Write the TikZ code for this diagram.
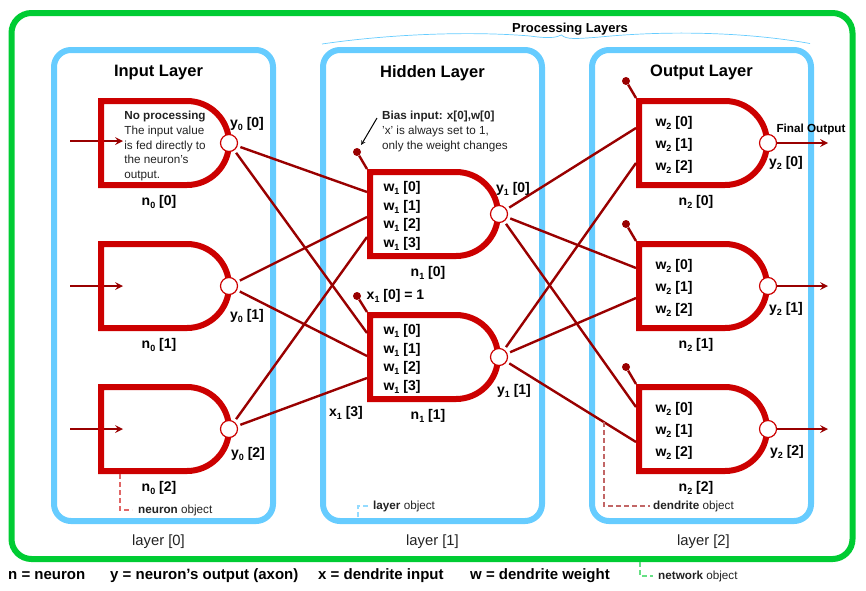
\documentclass[tikz,border=0pt]{standalone}
\usepackage{fontspec}
\setmainfont{Liberation Sans}
\usetikzlibrary{shapes.misc, arrows, calc, backgrounds}
\definecolor{netgreen}{HTML}{00CC33}
\definecolor{layerblue}{HTML}{66CCFF}
\definecolor{gatered}{HTML}{CC0000}
\definecolor{wirered}{HTML}{990000}
\definecolor{inkgray}{HTML}{222222}
\newcommand{\idx}[3]{#1\raisebox{-3pt}{\fontsize{9}{9}\selectfont #2} [#3]}

\begin{document}
\begin{tikzpicture}[x=1pt, y=-1pt, node distance=143pt]
    \tikzstyle{network} = [rectangle, rounded corners=20pt, minimum width=841pt, minimum height=546pt, draw=netgreen, line width=6pt]
    \tikzstyle{layerbox} = [rectangle, rounded corners=17pt, minimum width=219pt, minimum height=471pt, draw=layerblue, line width=6pt]
    \tikzstyle{gate} = [rounded rectangle, rounded rectangle left arc=none, minimum width=128pt, minimum height=84pt, inner sep=0pt, draw=gatered, line width=6pt]
    \tikzstyle{axon} = [circle, minimum size=17pt, inner sep=0pt, draw=gatered, line width=1.2pt, fill=white]
    \tikzstyle{bias} = [circle, minimum size=8pt, inner sep=0pt, fill=wirered]
    \tikzstyle{dendrite} = [draw=wirered, line width=2.4pt, shorten <=3pt]
    \tikzstyle{arrow} = [draw=wirered, line width=2.4pt, ->, >=stealth]
    \tikzstyle{title} = [inner sep=0pt, yshift=-2pt, font=\fontsize{16.5}{18}\selectfont\bfseries]
    \tikzstyle{tag} = [inner sep=0pt, yshift=-2pt, font=\fontsize{14}{16}\selectfont\bfseries]
    \tikzstyle{neuronlabel} = [tag, node distance=57pt, xshift=-6pt]
    \tikzstyle{weights} = [inner sep=0pt, yshift=-2pt, align=left, font=\fontsize{14}{18.5}\selectfont\bfseries]
    \tikzstyle{small} = [inner sep=0pt, text=inkgray, font=\fontsize{11.7}{14.7}\selectfont]
    \tikzstyle{layername} = [inner sep=0pt, yshift=-2pt, text=inkgray, font=\fontsize{14.8}{16}\selectfont, node distance=254pt]
    \tikzstyle{legend} = [inner sep=0pt, anchor=west, font=\fontsize{15}{17}\selectfont\bfseries]
    \tikzstyle{leader} = [line width=1.2pt, dash pattern=on 5pt off 3pt, shorten >=6pt]

    \useasboundingbox (0,0) rectangle (866,590);

    % frames
    \node (net) [network] at (432,286) {};
    \node (layer0) [layerbox] at (163.5,285.5) {};
    \node (layer1) [layerbox, right of=layer0, node distance=269pt] {};
    \node (layer2) [layerbox, right of=layer1, node distance=269pt] {};

    \node (title0) [title, above of=layer0, node distance=214.5pt, xshift=-5pt] {Input Layer};
    \node (title1) [title, above of=layer1, node distance=214.5pt] {Hidden Layer};
    \node (title2) [title, above of=layer2, node distance=215.5pt] {Output Layer};
    \node (layername0) [layername, below of=layer0, xshift=-5pt] {layer [0]};
    \node (layername1) [layername, below of=layer1] {layer [1]};
    \node (layername2) [layername, below of=layer2, xshift=2pt] {layer [2]};

    % neurons
    \node (n00) [gate] at (165,143) {};
    \node (n01) [gate, below of=n00] {};
    \node (n02) [gate, below of=n01] {};
    \node (n10) [gate, right of=n00, node distance=269pt, yshift=-71pt] {};
    \node (n11) [gate, below of=n10] {};
    \node (n20) [gate, right of=n10, node distance=269pt, yshift=71pt] {};
    \node (n21) [gate, below of=n20] {};
    \node (n22) [gate, below of=n21] {};
    \node (note) [small, align=left, below of=n00, node distance=3pt] {\textbf{No processing}\\The input value\\is fed directly to\\the neuron's\\output.};

    \node (y00) [axon, right of=n00, node distance=64pt] {};
    \node (y01) [axon, right of=n01, node distance=64pt] {};
    \node (y02) [axon, right of=n02, node distance=64pt] {};
    \node (y10) [axon, right of=n10, node distance=65pt] {};
    \node (y11) [axon, right of=n11, node distance=65pt] {};
    \node (y20) [axon, right of=n20, node distance=65pt] {};
    \node (y21) [axon, right of=n21, node distance=65pt] {};
    \node (y22) [axon, right of=n22, node distance=65pt] {};

    % weights
    \node (w10) [weights, left of=n10, node distance=32pt] {\idx{w}{1}{0}\\\idx{w}{1}{1}\\\idx{w}{1}{2}\\\idx{w}{1}{3}};
    \node (w11) [weights, left of=n11, node distance=32pt] {\idx{w}{1}{0}\\\idx{w}{1}{1}\\\idx{w}{1}{2}\\\idx{w}{1}{3}};
    \tikzstyle{weights} = [inner sep=0pt, yshift=-2pt, align=left, font=\fontsize{14}{22}\selectfont\bfseries]
    \node (w20) [weights, left of=n20, node distance=29pt] {\idx{w}{2}{0}\\\idx{w}{2}{1}\\\idx{w}{2}{2}};
    \node (w21) [weights, left of=n21, node distance=29pt] {\idx{w}{2}{0}\\\idx{w}{2}{1}\\\idx{w}{2}{2}};
    \node (w22) [weights, left of=n22, node distance=29pt] {\idx{w}{2}{0}\\\idx{w}{2}{1}\\\idx{w}{2}{2}};

    % neuron and output labels
    \node (ln00) [neuronlabel, below of=n00] {\idx{n}{0}{0}};
    \node (ln01) [neuronlabel, below of=n01] {\idx{n}{0}{1}};
    \node (ln02) [neuronlabel, below of=n02] {\idx{n}{0}{2}};
    \node (ln10) [neuronlabel, below of=n10] {\idx{n}{1}{0}};
    \node (ln11) [neuronlabel, below of=n11] {\idx{n}{1}{1}};
    \node (ln20) [neuronlabel, below of=n20, xshift=-1pt] {\idx{n}{2}{0}};
    \node (ln21) [neuronlabel, below of=n21, xshift=-1pt] {\idx{n}{2}{1}};
    \node (ln22) [neuronlabel, below of=n22, xshift=-1pt] {\idx{n}{2}{2}};

    \node (ly00) [tag, above of=y00, node distance=21pt, xshift=18pt] {\idx{y}{0}{0}};
    \node (ly01) [tag, below of=y01, node distance=28pt, xshift=18pt] {\idx{y}{0}{1}};
    \node (ly02) [tag, below of=y02, node distance=23pt, xshift=19pt] {\idx{y}{0}{2}};
    \node (ly10) [tag, above of=y10, node distance=27pt, xshift=14pt] {\idx{y}{1}{0}};
    \node (ly11) [tag, below of=y11, node distance=32pt, xshift=15pt] {\idx{y}{1}{1}};
    \node (ly20) [tag, below of=y20, node distance=18pt, xshift=18pt] {\idx{y}{2}{0}};
    \node (ly21) [tag, below of=y21, node distance=21pt, xshift=18pt] {\idx{y}{2}{1}};
    \node (ly22) [tag, below of=y22, node distance=21pt, xshift=19pt] {\idx{y}{2}{2}};

    % bias inputs
    \node (b10) [bias] at ($(n10.north west)+(-10,-17)$) {};
    \node (b11) [bias] at ($(n11.north west)+(-10,-16)$) {};
    \node (b20) [bias] at ($(n20.north west)+(-10,-17)$) {};
    \node (b21) [bias] at ($(n21.north west)+(-10,-17)$) {};
    \node (b22) [bias] at ($(n22.north west)+(-10,-17)$) {};
    \draw [draw=wirered, line width=2.4pt] (b10) -- (n10.north west);
    \draw [draw=wirered, line width=2.4pt] (b11) -- (n11.north west);
    \draw [draw=wirered, line width=2.4pt] (b20) -- (n20.north west);
    \draw [draw=wirered, line width=2.4pt] (b21) -- (n21.north west);
    \draw [draw=wirered, line width=2.4pt] (b22) -- (n22.north west);

    \node (biastext) [small, align=left, anchor=north west] at (382,111) {\textbf{Bias input: x[0],w[0]}\\'x' is always set to 1,\\only the weight changes};
    \draw [line width=1pt, ->, >=stealth, shorten >=4pt] ($(biastext.north west)+(-5,7)$) -- (b10);
    \node (x10) [tag, right of=b11, node distance=38.5pt, yshift=2pt] {\idx{x}{1}{0} = 1};
    \node (x13) [tag, left of=n11, node distance=88pt, yshift=-54pt] {\idx{x}{1}{3}};

    % wiring input to hidden
    \draw [dendrite] (y00) -- ($(n10.west)+(0,-22)$);
    \draw [dendrite] (y00) -- ($(n11.west)+(0,-24)$);
    \draw [dendrite] (y01) -- ($(n10.west)+(0,3)$);
    \draw [dendrite] (y01) -- ($(n11.west)+(0,-1)$);
    \draw [dendrite] (y02) -- ($(n10.west)+(0,23)$);
    \draw [dendrite] (y02) -- ($(n11.west)+(0,21)$);

    % wiring hidden to output
    \draw [dendrite] (y10) -- ($(n20.west)+(0,-15)$);
    \draw [dendrite] (y10) -- ($(n21.west)+(0,-18)$);
    \draw [dendrite] (y10) -- ($(n22.west)+(0,-22)$);
    \draw [dendrite] (y11) -- ($(n20.west)+(0,20)$);
    \draw [dendrite] (y11) -- ($(n21.west)+(0,12)$);
    \draw [dendrite] (y11) -- coordinate[pos=.753] (tap) ($(n22.west)+(0,13)$);

    % inputs and outputs
    \coordinate [left of=n00, node distance=95pt, yshift=2pt] (in00);
    \coordinate [left of=n01, node distance=95pt] (in01);
    \coordinate [left of=n02, node distance=95pt] (in02);
    \coordinate [left of=n00, node distance=42pt, yshift=2pt] (end00);
    \coordinate [left of=n01, node distance=42pt] (end01);
    \coordinate [left of=n02, node distance=42pt] (end02);
    \begin{scope}[on background layer]
        \draw [arrow] (in00) -- (end00);
        \draw [arrow] (in01) -- (end01);
        \draw [arrow] (in02) -- (end02);
    \end{scope}
    \coordinate [right of=y20, node distance=60pt] (out20);
    \coordinate [right of=y21, node distance=60pt] (out21);
    \coordinate [right of=y22, node distance=60pt] (out22);
    \draw [arrow] (y20) -- (out20);
    \draw [arrow] (y21) -- (out21);
    \draw [arrow] (y22) -- (out22);
    \node (final) [small, text=black, above of=out20, node distance=14pt, xshift=-17pt, font=\fontsize{11.7}{14.7}\selectfont\bfseries] {Final Output};

    % object hints
    \node (neuronhint) [small, anchor=west] at (138,510) {\textbf{neuron} object};
    \draw [leader, draw=gatered!60] ($(n02.south west)+(22,0)$) |- (neuronhint.west);
    \node (layerhint) [small, anchor=west] at (373,506) {\textbf{layer} object};
    \draw [leader, draw=layerblue!70, shorten >=5pt] ($(layer1.south west)+(38,-7)$) |- (layerhint.west);
    \node (dendritehint) [small, anchor=west] at (653,506) {\textbf{dendrite} object};
    \draw [leader, draw=wirered!60, shorten >=3pt] (tap) |- (dendritehint.west);
    \node (nethint) [small, anchor=west] at (658,576) {\textbf{network} object};
    \draw [leader, draw=netgreen!60, shorten >=5pt] ($(net.south)+(208,0)$) |- (nethint.west);

    % processing brace
    \node (procname) [inner sep=0pt, font=\fontsize{13}{15}\selectfont\bfseries] at (570,29) {Processing Layers};
    \coordinate (braceleft) at (322,44);
    \coordinate (bracetip) at (561.5,35);
    \coordinate (braceright) at (810,43.5);
    \draw [layerblue, line width=.7pt] (braceleft) .. controls (390,34) and (470,31) .. (530,36) .. controls (548,38.5) and (555,38) .. (bracetip) .. controls (566,39.5) and (575,39) .. (600,37) .. controls (660,31) and (740,31) .. (braceright);

    % legend
    \node (legn) [legend] at (8,576) {n = neuron};
    \node (legy) [legend] at (110,576) {y = neuron's output (axon)};
    \node (legx) [legend] at (318,576) {x = dendrite input};
    \node (legw) [legend] at (470,576) {w = dendrite weight};
\end{tikzpicture}
\end{document}
